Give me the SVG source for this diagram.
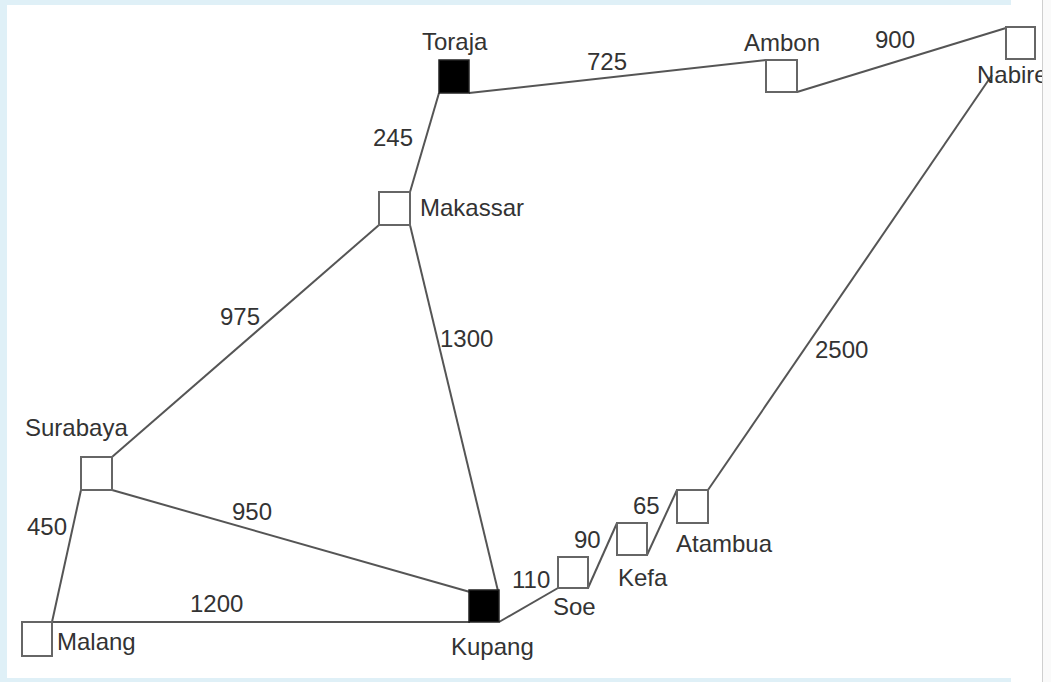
<svg xmlns="http://www.w3.org/2000/svg" width="1051" height="682" viewBox="0 0 1051 682">
<style>
.e{stroke:#555;stroke-width:2;fill:none}
.n{fill:#fff;stroke:#666;stroke-width:2}
.b{fill:#000;stroke:#222;stroke-width:1.5}
text{font-family:"Liberation Sans",Arial,sans-serif;font-size:24px;fill:#333}
</style>
<defs><clipPath id="clip"><rect x="0" y="0" width="1042" height="682"/></clipPath></defs>
<rect x="0" y="0" width="1051" height="682" fill="#dff0f7"/>
<rect x="7" y="5" width="1004" height="673" fill="#fff"/>
<rect x="1011" y="0" width="31" height="682" fill="#fff"/>
<rect x="1042" y="0" width="9" height="682" fill="#fafafa"/>
<line x1="1042.5" y1="0" x2="1042.5" y2="682" stroke="#cfcfcf" stroke-width="1"/>
<g id="connectors">
<line class="e" x1="469" y1="93" x2="766" y2="60"/>
<line class="e" x1="797" y1="92" x2="1006" y2="28"/>
<line class="e" x1="439" y1="93" x2="410" y2="192"/>
<line class="e" x1="379" y1="225" x2="112" y2="457"/>
<line class="e" x1="410" y1="225" x2="498" y2="591"/>
<line class="e" x1="112" y1="490" x2="470" y2="592"/>
<line class="e" x1="81" y1="490" x2="52" y2="622"/>
<line class="e" x1="52" y1="622" x2="470" y2="622"/>
<line class="e" x1="499" y1="622" x2="558" y2="588"/>
<line class="e" x1="588" y1="588" x2="617" y2="523"/>
<line class="e" x1="647" y1="555" x2="677" y2="490"/>
<line class="e" x1="708" y1="490" x2="992" y2="75"/>
<text x="587" y="70">725</text>
<text x="875" y="48">900</text>
<text x="373" y="146">245</text>
<text x="220" y="325">975</text>
<text x="440" y="347">1300</text>
<text x="815" y="358">2500</text>
<text x="27" y="535">450</text>
<text x="232" y="520">950</text>
<text x="190" y="612">1200</text>
<text x="512" y="588">110</text>
<text x="574" y="548">90</text>
<text x="633" y="514">65</text>
</g>
<g id="toraja"><rect class="b" x="439" y="60" width="30" height="33"/><text x="422" y="50">Toraja</text></g>
<g id="ambon"><rect class="n" x="766" y="60" width="31" height="32"/><text x="744" y="51">Ambon</text></g>
<g id="nabire"><rect class="n" x="1006" y="27" width="29" height="32"/><text x="977" y="83" clip-path="url(#clip)">Nabire</text></g>
<g id="makassar"><rect class="n" x="379" y="192" width="31" height="33"/><text x="420" y="216">Makassar</text></g>
<g id="surabaya"><rect class="n" x="81" y="457" width="31" height="33"/><text x="25" y="436">Surabaya</text></g>
<g id="malang"><rect class="n" x="22" y="622" width="30" height="34"/><text x="57" y="650">Malang</text></g>
<g id="kupang"><rect class="b" x="469" y="590" width="30" height="32"/><text x="451" y="655">Kupang</text></g>
<g id="soe"><rect class="n" x="558" y="557" width="30" height="31"/><text x="553" y="615">Soe</text></g>
<g id="kefa"><rect class="n" x="617" y="523" width="30" height="32"/><text x="618" y="586">Kefa</text></g>
<g id="atambua"><rect class="n" x="677" y="490" width="31" height="33"/><text x="676" y="552">Atambua</text></g>
</svg>
